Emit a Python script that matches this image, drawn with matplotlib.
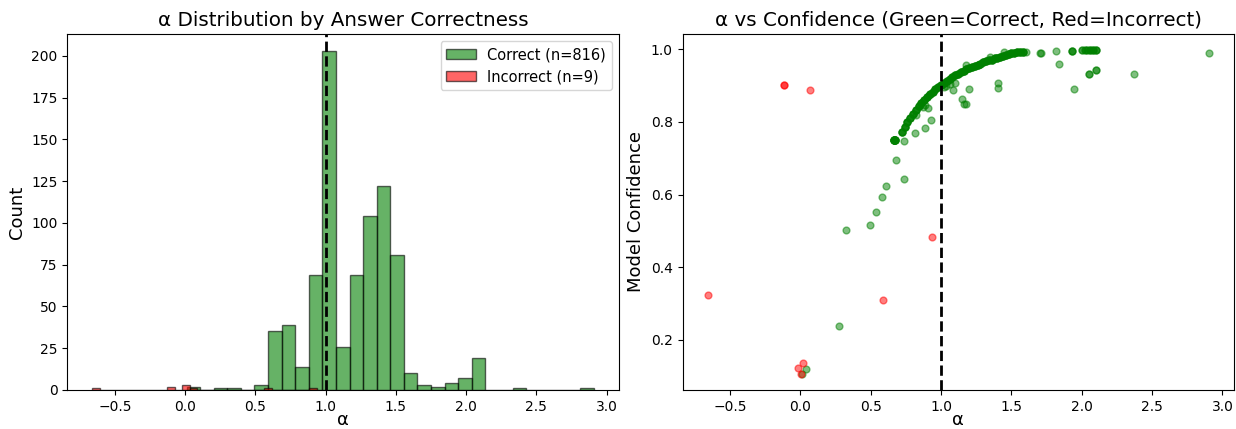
import numpy as np
import matplotlib
matplotlib.use('Agg')
import matplotlib.pyplot as plt

# histogram of alpha for correct answers (30 bins)
green_edges = np.linspace(0.01, 2.91, 31)
green_counts = [2, 0, 1, 1, 0, 3, 35, 39, 14, 69, 203, 26, 69, 104, 122, 81, 10, 3, 2, 4, 7, 19, 0, 0, 1, 0, 0, 0, 0, 1]

# incorrect answers: alpha and confidence
red_alpha = [-0.66, -0.12, -0.12, 0.07, -0.018, 0.004, 0.016, 0.585, 0.935]
red_conf = [0.323, 0.901, 0.901, 0.888, 0.121, 0.106, 0.136, 0.309, 0.483]

# correct answers: (alpha, confidence, how many overlapping points)
green_pts = [
    (0.012, 0.106, 1), (0.038, 0.120, 1), (0.271, 0.237, 1), (0.324, 0.501, 1),
    (0.493, 0.515, 1), (0.536, 0.551, 1), (0.579, 0.594, 1), (0.606, 0.624, 1),
    (0.681, 0.695, 1), (0.735, 0.644, 1), (0.735, 0.748, 1), (0.811, 0.769, 1),
    (0.887, 0.782, 1), (0.925, 0.805, 1), (0.662, 0.750, 8), (0.672, 0.750, 6),
    (0.823, 0.820, 1), (0.870, 0.840, 1), (0.883, 0.848, 1), (0.906, 0.839, 1),
    (0.913, 0.873, 1), (1.037, 0.899, 1), (1.084, 0.887, 1), (1.096, 0.908, 1),
    (1.151, 0.862, 1), (1.160, 0.850, 1), (1.174, 0.850, 1), (1.198, 0.891, 1),
    (1.405, 0.908, 1), (1.405, 0.894, 1), (1.02, 0.897, 1), (1.06, 0.905, 1),
    (1.18, 0.958, 1), (1.35, 0.978, 1), (1.45, 0.992, 1),
    (1.606, 0.994, 1), (1.700, 0.991, 1), (1.712, 0.991, 1), (1.815, 0.995, 1),
    (1.839, 0.959, 1), (1.934, 0.995, 3), (1.948, 0.892, 1), (2.00, 0.997, 2),
    (2.02, 0.997, 2), (2.04, 0.997, 2), (2.06, 0.998, 3), (2.08, 0.998, 3),
    (2.10, 0.998, 3), (2.05, 0.931, 2), (2.10, 0.944, 2), (2.37, 0.931, 1),
    (2.906, 0.989, 1),
    # dense band
    (0.72, 0.772, 4), (0.74, 0.787, 4), (0.76, 0.800, 4), (0.78, 0.812, 4),
    (0.80, 0.823, 4), (0.82, 0.833, 4), (0.84, 0.843, 4), (0.86, 0.852, 4),
    (0.88, 0.860, 4), (0.90, 0.868, 4), (0.92, 0.876, 4), (0.94, 0.883, 4),
    (0.96, 0.890, 4), (0.98, 0.896, 4), (1.00, 0.902, 4), (1.02, 0.908, 4),
    (1.04, 0.913, 4), (1.06, 0.918, 4), (1.08, 0.923, 4), (1.10, 0.928, 4),
    (1.12, 0.932, 4), (1.14, 0.937, 4), (1.16, 0.941, 4), (1.18, 0.945, 4),
    (1.20, 0.948, 4), (1.22, 0.952, 4), (1.24, 0.955, 4), (1.26, 0.958, 4),
    (1.28, 0.961, 4), (1.30, 0.964, 4), (1.32, 0.967, 4), (1.34, 0.970, 4),
    (1.36, 0.972, 4), (1.38, 0.975, 4), (1.40, 0.977, 4), (1.42, 0.980, 4),
    (1.44, 0.982, 4), (1.46, 0.985, 4), (1.48, 0.987, 4), (1.50, 0.989, 4),
    (1.52, 0.991, 4), (1.54, 0.992, 4), (1.56, 0.993, 4), (1.58, 0.994, 4),
]

g_alpha = np.repeat([p[0] for p in green_pts], [p[2] for p in green_pts])
g_conf = np.repeat([p[1] for p in green_pts], [p[2] for p in green_pts])
green_centers = (green_edges[:-1] + green_edges[1:]) / 2

fig, (ax1, ax2) = plt.subplots(1, 2, figsize=(12.36, 4.29), dpi=100)
fig.subplots_adjust(left=0.0545, right=0.9986, bottom=0.091, top=0.921, wspace=0.115)

ax1.hist(green_centers, bins=green_edges, weights=green_counts, color='green', alpha=0.6,
         edgecolor='black', label='Correct (n=816)')
ax1.hist(red_alpha, bins=30, color='red', alpha=0.6, edgecolor='black', label='Incorrect (n=9)')
ax1.axvline(1.0, color='black', linestyle='--', linewidth=2)
ax1.set_xlabel('α', fontsize=13, labelpad=-2)
ax1.set_ylabel('Count', fontsize=13)
ax1.set_title('α Distribution by Answer Correctness', fontsize=14.3)
ax1.legend(fontsize=10.5)

ax2.scatter(g_alpha, g_conf, color='green', alpha=0.5, s=24)
ax2.scatter(red_alpha, red_conf, color='red', alpha=0.5, s=24)
ax2.axvline(1.0, color='black', linestyle='--', linewidth=2)
ax2.set_xlabel('α', fontsize=13, labelpad=-2)
ax2.set_ylabel('Model Confidence', fontsize=13)
ax2.set_title('α vs Confidence (Green=Correct, Red=Incorrect)', fontsize=14.3)

fig.savefig('out.png', dpi=100)
